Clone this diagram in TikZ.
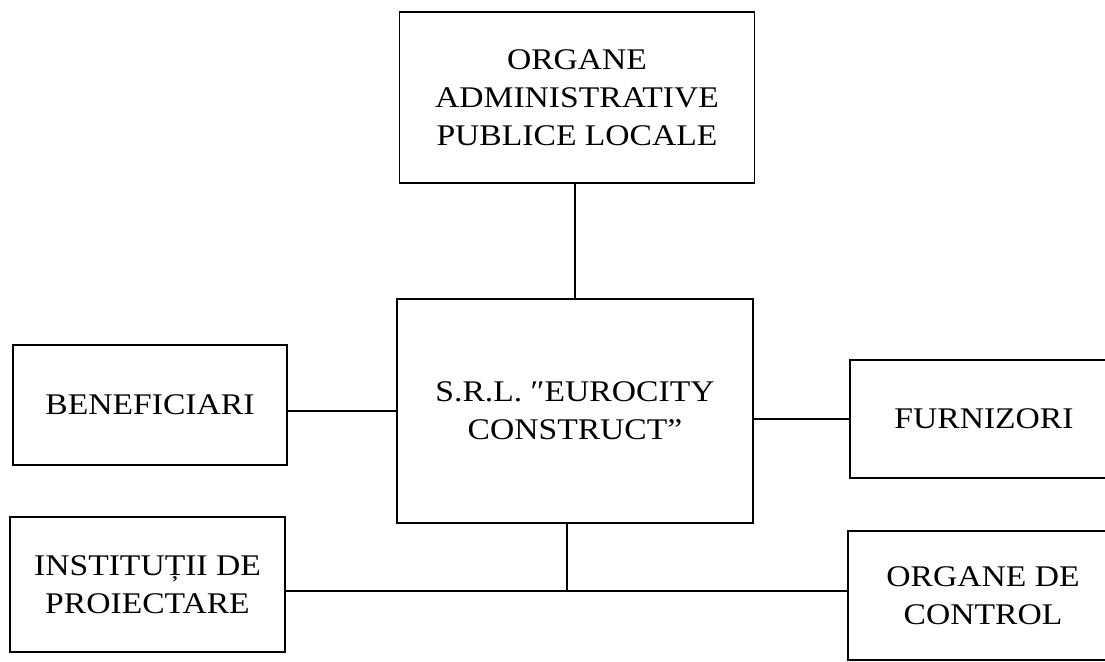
\documentclass[tikz,border=0pt]{standalone}
\usepackage{fontspec}
\setmainfont{Liberation Serif}[FakeStretch=1.12]
\usepackage{tikz}

\begin{document}
\begin{tikzpicture}[x=0.5pt,y=-0.5pt,line width=0.9pt,
	box/.style={draw,align=center,inner sep=0pt,font=\fontsize{15}{19}\selectfont}]
				\useasboundingbox (0,0) rectangle (1105,661);
				
				\node [box,minimum width=177.5pt,minimum height=85.5pt] (organe) at (577,97.5) {ORGANE\\ADMINISTRATIVE\\PUBLICE LOCALE};
				\node [box,minimum width=178pt,minimum height=112pt] (srl) at (575,411) {S.R.L. ″EUROCITY\\CONSTRUCT''};
				\node [box,minimum width=137pt,minimum height=60pt] (ben) at (150,405) {BENEFICIARI};
				\node [box,minimum width=134pt,minimum height=59pt] (furn) at (984,419) {FURNIZORI};
				\node [box,minimum width=137.5pt,minimum height=67.5pt] (inst) at (147.5,584.5) {INSTITUȚII DE\\PROIECTARE};
				\node [box,minimum width=135pt,minimum height=64.5pt] (ctrl) at (983,595.5) {ORGANE DE\\CONTROL};
				
				\draw (srl.north) -- (srl.north |- organe.south);
				\draw (srl.west) -- (srl.west -| ben.east);
				\draw (furn.west) -- (furn.west -| srl.east);
				
				\coordinate (jn) at (567,591);
				\draw (jn |- srl.south) -- (jn);
				\draw (inst.east |- jn) -- (ctrl.west |- jn);
			
			\end{tikzpicture}
\end{document}
